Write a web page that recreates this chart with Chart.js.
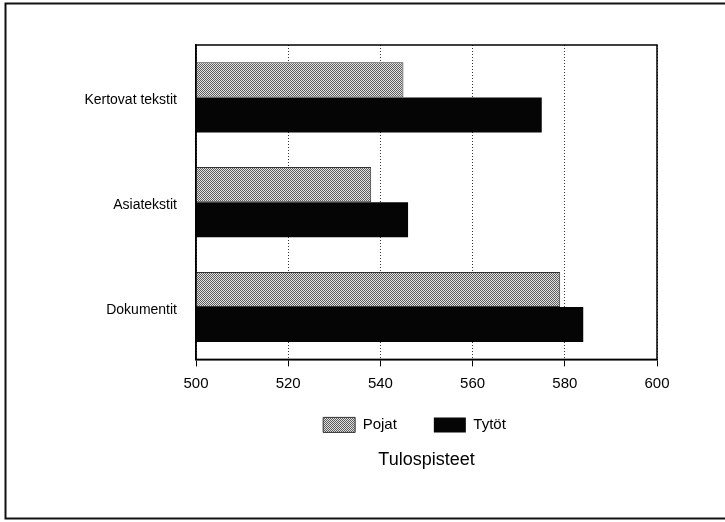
<!DOCTYPE html>
<html>
<head>
<meta charset="utf-8">
<script src="https://cdn.jsdelivr.net/npm/chart.js@4/dist/chart.umd.min.js"></script>
<style>
	body { margin: 0; background: #fff; }
	canvas { display: block; }
</style>
</head>
<body>
<canvas id="tulos_bar" width="725" height="522"></canvas>
<script>
const categories = ['Kertovat tekstit', 'Asiatekstit', 'Dokumentit'];
const seriesNames = ['Pojat', 'Tytöt'];
const pojat = [545, 538, 579];
const tytot = [575, 546, 584];
const xTicks = [500, 520, 540, 560, 580, 600];
const axisTitle = 'Tulospisteet';

// grey dotted fill like the printed raster
const makeDither = () => {
	const c = document.createElement('canvas');
	c.width = 4;
	c.height = 4;
	const g = c.getContext('2d');
	g.fillStyle = '#e2e2e2';
	g.fillRect(0, 0, 4, 4);
	g.fillStyle = '#5c5c5c';
	for (let y = 0; y < 4; y++) {
		for (let x = 0; x < 4; x++) {
			if ((x + y) % 2 === 0) g.fillRect(x, y, 1, 1);
		}
	}
	return g.createPattern(c, 'repeat');
}

const frames = {
	id: 'frames',
	afterLayout(chart) {
		// legend and title sit closer to the axis than the default stacking gives
		const lg = chart.legend;
		lg.left -= 12;
		lg.right -= 12;
		lg.top -= 19;
		lg.bottom -= 19;
		const tb = chart.titleBlock;
		if (tb) {
			tb.top -= 12;
			tb.bottom -= 12;
		}
	},
	afterDatasetsDraw(chart) {
		const { ctx, chartArea: a } = chart;
		ctx.save();
		ctx.strokeStyle = '#000';
		ctx.lineWidth = 1.5;
		ctx.strokeRect(a.left, a.top, a.right - a.left, a.bottom - a.top);
		ctx.lineWidth = 2;
		ctx.strokeStyle = '#111';
		ctx.beginPath();
		ctx.moveTo(726, 3.5);
		ctx.lineTo(5.5, 3.5);
		ctx.lineTo(5.5, 518.5);
		ctx.lineTo(726, 518.5);
		ctx.stroke();
		ctx.restore();
	}
};

Chart.defaults.font.family = "'Liberation Sans', Arial, sans-serif";
Chart.defaults.color = '#000';

const data = {
	labels: categories,
	datasets: [{
		label: seriesNames[0],
		data: pojat,
		backgroundColor: makeDither(),
		borderColor: '#333',
		borderWidth: 1,
		barPercentage: 1.0,
		categoryPercentage: 0.67
	}, {
		label: seriesNames[1],
		data: tytot,
		backgroundColor: '#050505',
		borderColor: '#050505',
		borderWidth: 0,
		barPercentage: 1.0,
		categoryPercentage: 0.67
	}]
};

const config = {
	type: 'bar',
	data: data,
	options: {
		indexAxis: 'y',
		responsive: false,
		animation: false,
		layout: {
			padding: { top: 45, left: 0, right: 68, bottom: 29 }
		},
		scales: {
			x: {
				min: xTicks[0],
				max: xTicks[xTicks.length - 1],
				afterBuildTicks: (scale) => {
					scale.ticks = xTicks.map(v => ({ value: v }));
				},
				afterFit: (scale) => { scale.height = 40; },
				grid: {
					color: '#333',
					lineWidth: 1,
					drawTicks: true,
					tickLength: 7,
					tickColor: '#000',
					tickWidth: 1,
					tickBorderDash: []
				},
				border: { display: true, color: '#000', width: 1.5, dash: [1, 2] },
				ticks: {
					font: { size: 15 },
					padding: 8,
					maxRotation: 0
				}
			},
			y: {
				afterFit: (scale) => { scale.width = 196; },
				grid: { display: false, drawTicks: false },
				border: { display: true, color: '#000', width: 1.5 },
				ticks: {
					font: { size: 14 },
					padding: 19,
					labelOffset: 3
				}
			}
		},
		plugins: {
			legend: {
				display: true,
				position: 'bottom',
				fullSize: false,
				labels: {
					boxWidth: 32,
					boxHeight: 15,
					padding: 37,
					font: { size: 15 }
				}
			},
			title: {
				display: true,
				position: 'bottom',
				fullSize: false,
				text: axisTitle,
				font: { size: 18, weight: 'normal' },
				padding: { top: 0, bottom: 10 }
			},
			tooltip: { enabled: false }
		}
	},
	plugins: [frames]
};

var ctx = document.getElementById('tulos_bar');
if (ctx != null) {
	const chart = new Chart(ctx, config);
}
</script>
</body>
</html>
